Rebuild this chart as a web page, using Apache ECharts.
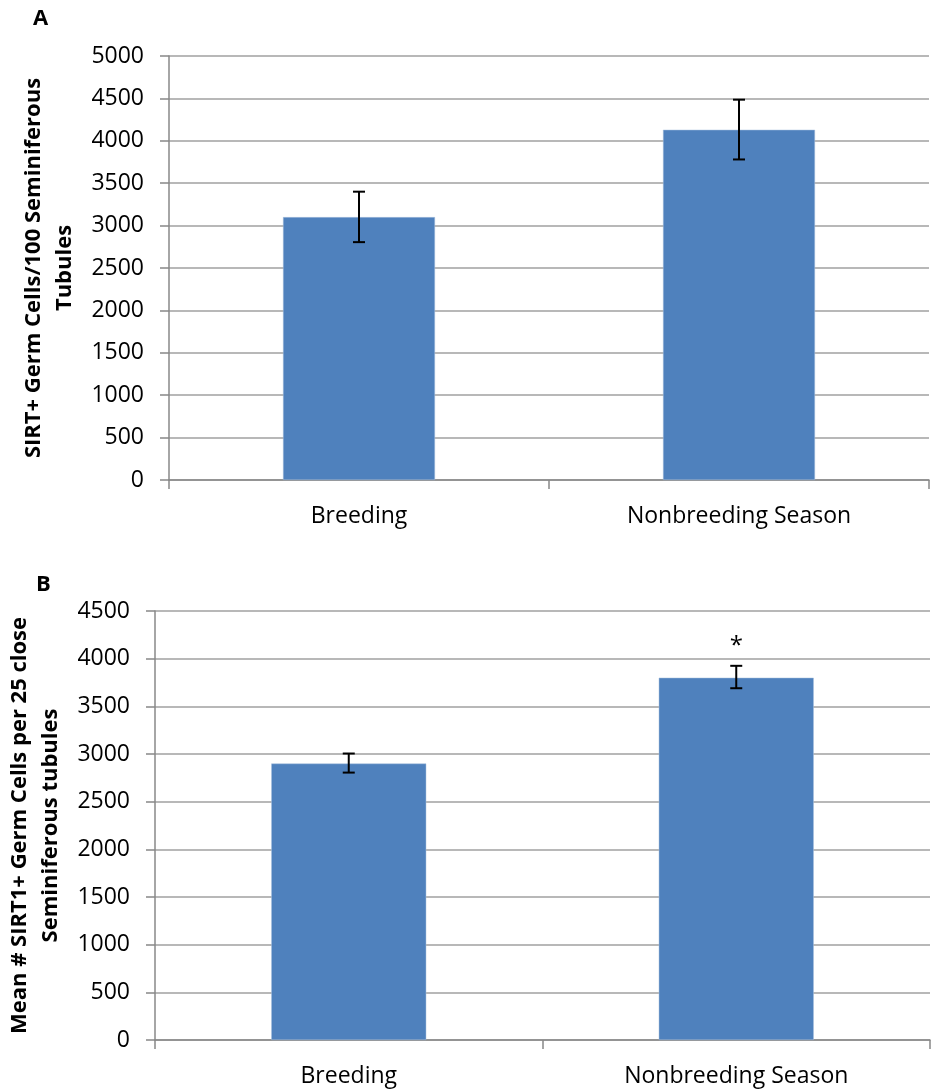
<!DOCTYPE html>
<html>
<head>
<meta charset="utf-8">
<script src="https://cdn.jsdelivr.net/npm/echarts@6/dist/echarts.min.js"></script>
<style>html,body{margin:0;padding:0;background:#fff}#c{width:931px;height:1090px}</style>
</head>
<body>
<div id="c"></div>
<script>
// Panel A
const categoriesA = ['Breeding', 'Nonbreeding Season'];
const valuesA = [3100, 4130];
const errLowA = [2805, 3780];
const errHighA = [3400, 4485];
const yTitleA = 'SIRT+ Germ Cells/100 Seminiferous\nTubules';

// Panel B
const categoriesB = ['Breeding', 'Nonbreeding Season'];
const valuesB = [2900, 3800];
const errLowB = [2805, 3690];
const errHighB = [3005, 3925];
const sigMarksB = ['', '*'];
const yTitleB = 'Mean # SIRT1+ Germ Cells per 25 close\nSeminiferous tubules';

const FONT = 'Open Sans';
const BAR = '#4f81bd';

function errRender(marks) {
  return function (params, api) {
    const x = api.value(0), lo = api.value(1), hi = api.value(2);
    const pLo = api.coord([x, lo]);
    const pHi = api.coord([x, hi]);
    const cap = 6;
    const st = {stroke: '#000', lineWidth: 2};
    const children = [
      {type: 'line', shape: {x1: pLo[0], y1: pLo[1], x2: pHi[0], y2: pHi[1]}, style: st},
      {type: 'line', shape: {x1: pLo[0] - cap, y1: pLo[1], x2: pLo[0] + cap, y2: pLo[1]}, style: st},
      {type: 'line', shape: {x1: pHi[0] - cap, y1: pHi[1], x2: pHi[0] + cap, y2: pHi[1]}, style: st}
    ];
    if (marks && marks[params.dataIndex]) {
      children.push({type: 'text', x: pHi[0], y: pHi[1] - 20,
        style: {text: marks[params.dataIndex], fill: '#000', font: '24px ' + FONT, align: 'center', verticalAlign: 'middle'}});
    }
    return {type: 'group', children};
  };
}

const yAxisCommon = {
  type: 'value',
  interval: 500,
  min: 0,
  axisLine: {show: true, lineStyle: {color: '#888', width: 1.5}},
  axisTick: {show: true, length: 9, lineStyle: {color: '#888', width: 1.5}},
  splitLine: {show: true, lineStyle: {color: '#a0a0a0', width: 1.5}},
  axisLabel: {color: '#000', fontFamily: FONT, fontSize: 23, margin: 25, formatter: v => String(v)},
  nameLocation: 'middle',
  nameRotate: 90,
  nameTextStyle: {color: '#000', fontFamily: FONT, fontSize: 22, fontWeight: 'bold', lineHeight: 31, align: 'center'}
};
const xAxisCommon = {
  type: 'category',
  boundaryGap: true,
  axisLine: {show: true, lineStyle: {color: '#888', width: 1.5}},
  axisTick: {show: true, length: 9, lineStyle: {color: '#888', width: 1.5}},
  axisLabel: {color: '#000', fontFamily: FONT, fontSize: 23, margin: 25},
  splitLine: {show: false}
};

const chart = echarts.init(document.getElementById('c'), null, {renderer: 'canvas'});
chart.setOption({
  animation: false,
  backgroundColor: '#fff',
  graphic: [
    {type: 'text', left: 33, top: 8, style: {text: 'A', font: 'bold 22px ' + FONT, fill: '#000'}},
    {type: 'text', left: 36, top: 574, style: {text: 'B', font: 'bold 22px ' + FONT, fill: '#000'}}
  ],
  grid: [
    {left: 169, top: 56, width: 760, height: 424, containLabel: false, outerBoundsMode: 'none'},
    {left: 155, top: 611, width: 775, height: 429, containLabel: false, outerBoundsMode: 'none'}
  ],
  xAxis: [
    Object.assign({}, xAxisCommon, {gridIndex: 0, data: categoriesA}),
    Object.assign({}, xAxisCommon, {gridIndex: 1, data: categoriesB})
  ],
  yAxis: [
    Object.assign({}, yAxisCommon, {gridIndex: 0, max: 5000, name: yTitleA, nameGap: 88}),
    Object.assign({}, yAxisCommon, {gridIndex: 1, max: 4500, name: yTitleB, nameGap: 82})
  ],
  series: [
    {type: 'bar', xAxisIndex: 0, yAxisIndex: 0, data: valuesA, barWidth: '40%',
     itemStyle: {color: BAR, borderColor: '#a9c0df', borderWidth: 0.5}},
    {type: 'custom', xAxisIndex: 0, yAxisIndex: 0, renderItem: errRender(null),
     data: categoriesA.map((c, i) => [i, errLowA[i], errHighA[i]]), z: 10},
    {type: 'bar', xAxisIndex: 1, yAxisIndex: 1, data: valuesB, barWidth: '40%',
     itemStyle: {color: BAR, borderColor: '#a9c0df', borderWidth: 0.5}},
    {type: 'custom', xAxisIndex: 1, yAxisIndex: 1, renderItem: errRender(sigMarksB),
     data: categoriesB.map((c, i) => [i, errLowB[i], errHighB[i]]), z: 10}
  ]
});
</script>
</body>
</html>
